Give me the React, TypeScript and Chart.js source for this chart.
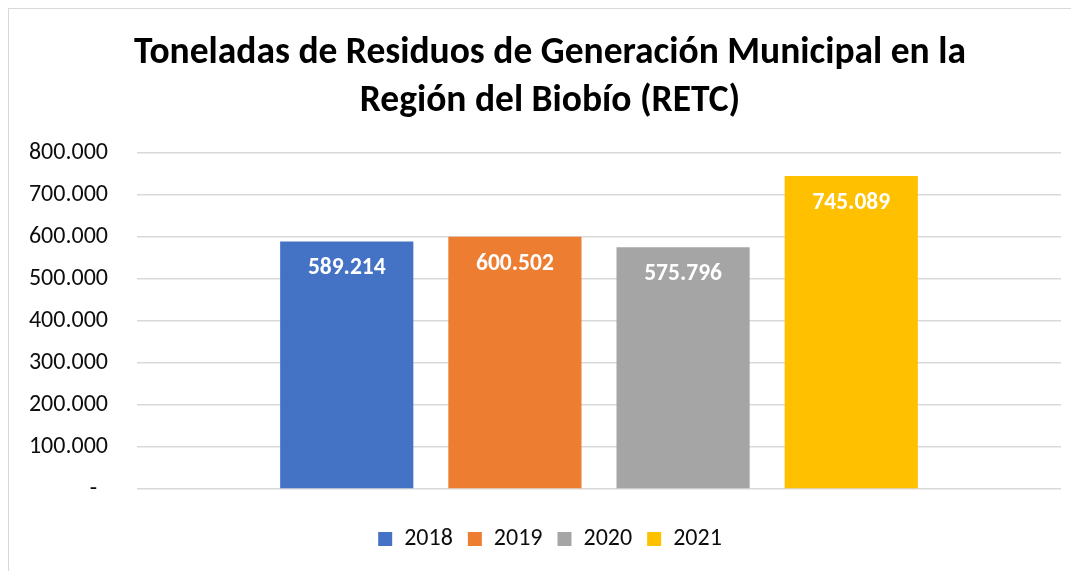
import React, { useEffect, useRef } from "react";
import { Chart, registerables } from "chart.js";

Chart.register(...registerables);

const categories = [""];
const seriesLabels = ["2018", "2019", "2020", "2021"];
const seriesValues = [589214, 600502, 575796, 745089];
const seriesColors = ["#4472C4", "#ED7D31", "#A5A5A5", "#FFC000"];
const yMin = 0;
const yMax = 800000;
const yStep = 100000;
const titleLines = [
  "Toneladas de Residuos de Generación Municipal en la",
  "Región del Biobío (RETC)",
];

const FONT = "Carlito, Calibri, Lato, 'Open Sans', sans-serif";

function fmt(v: number): string {
  if (v === 0) return "-  ";
  return String(Math.round(v)).replace(/\B(?=(\d{3})+(?!\d))/g, ".");
}

const dataLabelPlugin = {
  id: "dataLabels",
  afterLayout(chart: any) {
    // let the y tick labels extend into the left padding without being clipped
    if (chart.scales.y) chart.scales.y.left = 0;
  },
  afterDatasetsDraw(chart: any) {
    const ctx = chart.ctx;
    ctx.save();
    ctx.font = `bold 23.5px ${FONT}`;
    ctx.fillStyle = "#ffffff";
    ctx.textAlign = "center";
    ctx.textBaseline = "middle";
    chart.data.datasets.forEach((ds: any, i: number) => {
      const meta = chart.getDatasetMeta(i);
      meta.data.forEach((el: any, j: number) => {
        ctx.fillText(fmt(ds.data[j]), el.x, el.y + 27);
      });
    });
    ctx.restore();
  },
};

export default function App() {
  const ref = useRef<HTMLCanvasElement | null>(null);
  useEffect(() => {
    if (!ref.current) return;
    const chart = new Chart(ref.current, {
      type: "bar",
      data: {
        labels: categories,
        datasets: seriesLabels.map((l, i) => ({
          label: l,
          data: [seriesValues[i]],
          backgroundColor: seriesColors[i],
          borderWidth: 0,
          categoryPercentage: 0.728,
          barPercentage: 0.792,
        })),
      },
      options: {
        responsive: false,
        animation: false,
        devicePixelRatio: 1,
        layout: { padding: { left: 30, right: 18, top: 0, bottom: 10 } },
        plugins: {
          title: {
            display: true,
            text: titleLines,
            color: "#000000",
            font: { family: FONT, size: 37.5, weight: "bold", lineHeight: 1.28 },
            padding: { top: 21, bottom: 27 },
          },
          legend: {
            position: "bottom",
            labels: {
              boxWidth: 14,
              boxHeight: 14,
              padding: 15,
              color: "#0d0d0d",
              font: { family: FONT, size: 24 },
            },
          },
          tooltip: { enabled: false },
        },
        scales: {
          x: {
            display: true,
            grid: { display: false },
            border: { display: false },
            ticks: { display: false },
            afterFit: (s: any) => {
              s.height = 23;
            },
          },
          y: {
            min: yMin,
            max: yMax,
            ticks: {
              stepSize: yStep,
              callback: (v: any) => fmt(Number(v)),
              color: "#0d0d0d",
              font: { family: FONT, size: 24 },
              padding: 29,
            },
            grid: { color: "#d9d9d9", lineWidth: 1.5, drawTicks: false },
            border: { display: false },
            afterFit: (s: any) => {
              s.width = 98;
            },
          },
        },
      } as any,
      plugins: [dataLabelPlugin],
    });
    return () => chart.destroy();
  }, []);

  return (
    <div
      style={{
        width: 1071,
        height: 563,
        borderLeft: "1px solid #d9d9d9",
        borderTop: "1px solid #d9d9d9",
        overflow: "hidden",
        boxSizing: "border-box",
        background: "#fff",
      }}
    >
      <canvas ref={ref} width={1070} height={562} style={{ display: "block" }} />
    </div>
  );
}
